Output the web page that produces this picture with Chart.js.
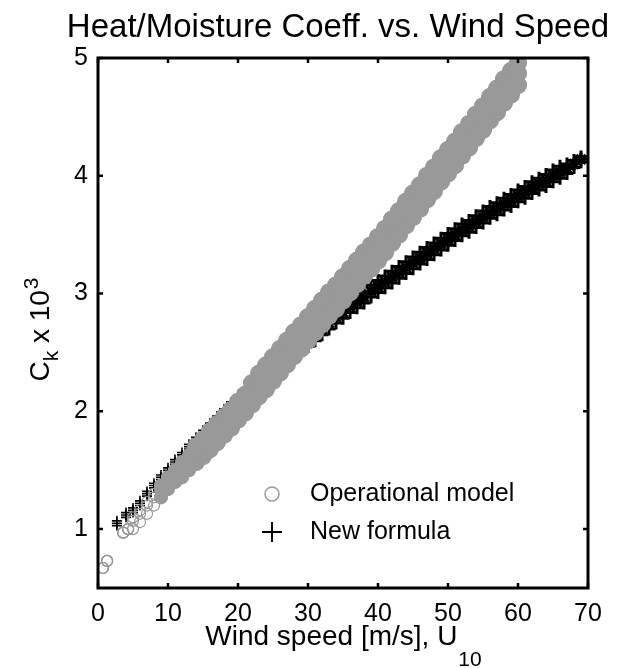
<!DOCTYPE html>
<html><head><meta charset="utf-8">
<script src="https://cdn.jsdelivr.net/npm/chart.js@4.4.0/dist/chart.umd.min.js"></script>
<style>html,body{margin:0;padding:0;background:#fff;}#wrap{width:633px;height:668px;}</style>
</head><body><div id="wrap"><canvas id="c" width="633" height="668"></canvas></div>
<script>
const titleText = 'Heat/Moisture Coeff. vs. Wind Speed';
const xTitleMain = 'Wind speed [m/s], U';
const xTitleSub = '10';
const yTitleC = 'C', yTitleSub = 'k', yTitleMid = ' x 10', yTitleSup = '3';
const seriesNames = ['Operational model', 'New formula'];
const xTicks = [0, 10, 20, 30, 40, 50, 60, 70];
const yTicks = [1, 2, 3, 4, 5];

// Operational model (grey circles): wind speed and band (mid / upper / lower) of Ck x 10^3
const opWind = [0.7,1.3,3.6,4.3,5,6,7,8,9,10,11,12,13,14,15,16,17,18,19,20,21,22,23,24,25,26,27,28,29,30,31,32,33,34,35,36,37,38,39,40,41,42,43,44,45,46,47,48,49,50,51,52,53,54,55,56,57,58,59,60];
const opCkMid = [0.67,0.73,0.97,1.00,1.07,1.13,1.20,1.27,1.34,1.41,1.47,1.52,1.58,1.65,1.71,1.78,1.84,1.90,1.96,2.03,2.09,2.16,2.23,2.29,2.36,2.43,2.50,2.57,2.63,2.70,2.77,2.84,2.91,2.97,3.04,3.11,3.18,3.25,3.31,3.38,3.45,3.53,3.60,3.68,3.75,3.82,3.90,3.97,4.05,4.12,4.19,4.27,4.34,4.42,4.49,4.57,4.64,4.72,4.79,4.87];
const opCkUpper = [0.67,0.73,0.97,1.00,1.10,1.16,1.23,1.30,1.37,1.44,1.50,1.57,1.63,1.70,1.76,1.83,1.89,1.95,2.01,2.08,2.14,2.24,2.32,2.39,2.46,2.53,2.60,2.67,2.73,2.80,2.87,2.94,3.01,3.07,3.14,3.21,3.28,3.35,3.41,3.48,3.55,3.63,3.70,3.78,3.85,3.92,4.00,4.07,4.15,4.22,4.29,4.37,4.44,4.52,4.59,4.67,4.74,4.82,4.89,4.96];
const opCkLower = [0.67,0.73,0.97,1.00,1.00,1.06,1.13,1.20,1.27,1.34,1.40,1.44,1.50,1.57,1.62,1.68,1.74,1.80,1.86,1.93,1.99,2.06,2.13,2.19,2.26,2.33,2.40,2.47,2.53,2.60,2.67,2.74,2.81,2.87,2.94,3.01,3.08,3.15,3.21,3.28,3.35,3.43,3.50,3.58,3.65,3.72,3.80,3.87,3.95,4.02,4.09,4.17,4.24,4.32,4.39,4.47,4.54,4.62,4.69,4.77];

// New formula (black crosses)
const newWind = [2.7,4,5,6,7,8,9,10,11,12,13,14,15,16,17,18,19,20,21,22,23,24,25,26,27,28,29,30,31,32,33,34,35,36,37,38,39,40,41,42,43,44,45,46,47,48,49,50,51,52,53,54,55,56,57,58,59,60,61,62,63,64,65,66,67,68,69];
const newCkMid = [1.05,1.12,1.16,1.22,1.30,1.37,1.44,1.50,1.57,1.63,1.70,1.76,1.82,1.88,1.94,2.00,2.06,2.12,2.17,2.22,2.27,2.32,2.37,2.42,2.46,2.51,2.56,2.60,2.65,2.70,2.75,2.80,2.84,2.89,2.93,2.97,3.02,3.06,3.10,3.14,3.18,3.22,3.26,3.30,3.34,3.38,3.42,3.46,3.50,3.54,3.57,3.61,3.65,3.69,3.72,3.76,3.79,3.83,3.86,3.90,3.93,3.96,4.00,4.03,4.06,4.10,4.14];
const newCkUpper = [1.07,1.14,1.18,1.24,1.32,1.39,1.46,1.52,1.59,1.65,1.72,1.78,1.84,1.90,1.96,2.02,2.08,2.14,2.19,2.24,2.29,2.34,2.39,2.44,2.48,2.56,2.61,2.65,2.70,2.75,2.80,2.85,2.89,2.94,2.98,3.02,3.07,3.11,3.15,3.19,3.23,3.27,3.31,3.35,3.39,3.43,3.47,3.51,3.55,3.59,3.62,3.66,3.70,3.74,3.77,3.81,3.84,3.88,3.91,3.95,3.98,4.01,4.05,4.08,4.10,4.13,4.16];
const newCkLower = [1.03,1.10,1.14,1.20,1.28,1.35,1.42,1.48,1.55,1.61,1.68,1.74,1.80,1.86,1.92,1.98,2.04,2.10,2.15,2.20,2.25,2.30,2.35,2.40,2.44,2.46,2.51,2.55,2.60,2.65,2.70,2.75,2.79,2.84,2.88,2.92,2.97,3.01,3.05,3.09,3.13,3.17,3.21,3.25,3.29,3.33,3.37,3.41,3.45,3.49,3.52,3.56,3.60,3.64,3.67,3.71,3.74,3.78,3.81,3.85,3.88,3.91,3.95,3.98,4.02,4.07,4.12];

function buildPoints(w, a, b, c) {
  const pts = [];
  const n = Math.min(w.length, a.length, b.length, c.length);
  for (let i = 0; i < n; i++) {
    pts.push({x: w[i], y: c[i], row: 'edge'});
    pts.push({x: w[i], y: b[i], row: 'edge'});
    pts.push({x: w[i], y: a[i], row: 'mid'});
  }
  return pts;
}
const opPoints = buildPoints(opWind, opCkMid, opCkUpper, opCkLower);
const newPoints = buildPoints(newWind, newCkMid, newCkUpper, newCkLower);

const FONT = "'Liberation Sans', Arial, Helvetica, sans-serif";
const GREY = '#999999';
const wx = (c) => (c.raw ? c.raw.x : 100);

const framePlugin = {
  id: 'frame',
  afterDatasetsDraw(chart) {
    const {ctx, chartArea: a, scales} = chart;
    const x = scales.x, y = scales.y;
    ctx.save();
    ctx.strokeStyle = '#000';
    ctx.lineWidth = 2.5;
    const tl = 5;
    ctx.beginPath();
    xTicks.forEach(v => { const p = x.getPixelForValue(v);
      ctx.moveTo(p, a.bottom); ctx.lineTo(p, a.bottom - tl);
      ctx.moveTo(p, a.top); ctx.lineTo(p, a.top + tl); });
    yTicks.forEach(v => { const p = y.getPixelForValue(v);
      ctx.moveTo(a.left, p); ctx.lineTo(a.left + tl, p);
      ctx.moveTo(a.right, p); ctx.lineTo(a.right - tl, p); });
    ctx.stroke();
    ctx.lineWidth = 3;
    ctx.strokeRect(a.left, a.top, a.right - a.left, a.bottom - a.top);
    ctx.restore();
  },
  afterDraw(chart) {
    const {ctx, chartArea: a} = chart;
    ctx.save();
    ctx.fillStyle = '#000';
    ctx.textBaseline = 'alphabetic';
    ctx.textAlign = 'left';
    // x-axis title with subscript
    ctx.font = '28px ' + FONT;
    const wMain = ctx.measureText(xTitleMain).width;
    ctx.font = '21px ' + FONT;
    const wSub = ctx.measureText(xTitleSub).width;
    const cx = (a.left + a.right) / 2;
    let sx = cx - (wMain + wSub) / 2;
    ctx.font = '28px ' + FONT;
    ctx.fillText(xTitleMain, sx, 645);
    ctx.font = '21px ' + FONT;
    ctx.fillText(xTitleSub, sx + wMain + 1, 666);

    // y-axis title, rotated, with subscript and superscript
    ctx.save();
    ctx.translate(49, 330);
    ctx.rotate(-Math.PI / 2);
    ctx.font = '28px ' + FONT; const w1 = ctx.measureText(yTitleC).width;
    ctx.font = '21px ' + FONT; const w2 = ctx.measureText(yTitleSub).width;
    ctx.font = '28px ' + FONT; const w3 = ctx.measureText(yTitleMid).width;
    ctx.font = '21px ' + FONT; const w4 = ctx.measureText(yTitleSup).width;
    let px = -(w1 + w2 + w3 + w4) / 2;
    ctx.font = '28px ' + FONT; ctx.fillText(yTitleC, px, 0); px += w1;
    ctx.font = '21px ' + FONT; ctx.fillText(yTitleSub, px, 9); px += w2;
    ctx.font = '28px ' + FONT; ctx.fillText(yTitleMid, px, 0); px += w3;
    ctx.font = '21px ' + FONT; ctx.fillText(yTitleSup, px + 1, -11);
    ctx.restore();

    // legend
    const ds = chart.data.datasets;
    const mx = 272, tx = 310, rows = [494, 532];
    ctx.font = '25px ' + FONT;
    ctx.textBaseline = 'middle';
    ctx.strokeStyle = GREY; ctx.lineWidth = 1.5;
    ctx.beginPath(); ctx.arc(mx, rows[0], 7, 0, Math.PI * 2); ctx.stroke();
    ctx.strokeStyle = '#000'; ctx.lineWidth = 2;
    ctx.beginPath();
    ctx.moveTo(mx - 10, rows[1]); ctx.lineTo(mx + 10, rows[1]);
    ctx.moveTo(mx, rows[1] - 10); ctx.lineTo(mx, rows[1] + 10);
    ctx.stroke();
    ctx.fillStyle = '#000';
    ctx.fillText(ds[0].label, tx, rows[0]);
    ctx.fillText(ds[1].label, tx, rows[1]);
    ctx.restore();
  }
};

new Chart(document.getElementById('c').getContext('2d'), {
  type: 'scatter',
  data: {
    datasets: [
      {
        label: seriesNames[0],
        data: opPoints,
        pointStyle: 'circle',
        pointRadius: (c) => (wx(c) < 9 ? 5.5 : (wx(c) < 14 ? 6.5 : 8.5)),
        borderWidth: 1.2,
        borderColor: GREY,
        backgroundColor: (c) => (wx(c) < 9 ? 'rgba(255,255,255,0)' : GREY)
      },
      {
        label: seriesNames[1],
        data: newPoints,
        pointStyle: (c) => (c.raw && c.raw.row === 'mid' && wx(c) >= 25 ? 'star' : 'cross'),
        pointRadius: (c) => (wx(c) < 25 ? 5 : 6.5),
        borderWidth: (c) => (wx(c) < 25 ? 1.6 : 3),
        borderColor: '#000',
        backgroundColor: '#000'
      }
    ]
  },
  options: {
    responsive: false,
    animation: false,
    events: [],
    layout: {padding: {left: 43, right: 0, top: 0, bottom: 0}},
    plugins: {
      legend: {display: false},
      tooltip: {enabled: false},
      title: {
        display: true,
        text: titleText,
        color: '#000',
        font: {family: FONT, size: 33, weight: 'normal', lineHeight: 1.2},
        padding: {top: 8, bottom: 10.4}
      }
    },
    scales: {
      x: {
        type: 'linear', min: 0, max: 70,
        afterBuildTicks: (s) => { s.ticks = xTicks.map(v => ({value: v})); },
        afterFit: (s) => { s.height = 80; },
        grid: {display: false, drawTicks: false},
        border: {display: false},
        ticks: {color: '#000', font: {family: FONT, size: 25}, padding: 11, maxRotation: 0, autoSkip: false}
      },
      y: {
        type: 'linear', min: 0.5, max: 5,
        afterBuildTicks: (s) => { s.ticks = yTicks.map(v => ({value: v})); },
        afterFit: (s) => { s.width = 55; },
        grid: {display: false, drawTicks: false},
        border: {display: false},
        ticks: {color: '#000', font: {family: FONT, size: 25}, padding: 10, autoSkip: false}
      },
      y2: {
        type: 'linear', position: 'right', min: 0.5, max: 5,
        afterFit: (s) => { s.width = 45; },
        grid: {display: false, drawTicks: false},
        border: {display: false},
        ticks: {display: false}
      }
    }
  },
  plugins: [framePlugin]
});
</script>
</body></html>
